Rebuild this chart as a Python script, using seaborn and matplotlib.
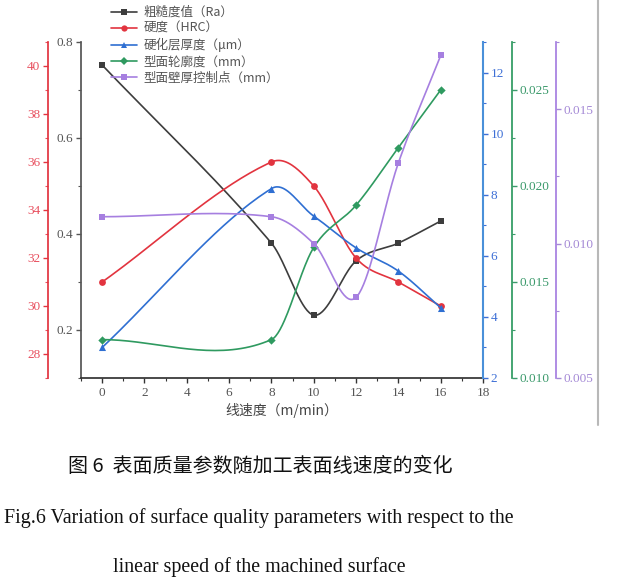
import numpy as np
import pandas as pd
import matplotlib
matplotlib.use("Agg")
import matplotlib.pyplot as plt
import seaborn as sns
from matplotlib.lines import Line2D
from matplotlib.ticker import MultipleLocator, FormatStrFormatter

# ---------------- data ----------------
speed = [0, 8, 10, 12, 14, 16]
roughness = [0.752, 0.381, 0.231, 0.344, 0.381, 0.427]      # Ra
hardness = [31.0, 36.0, 35.0, 32.0, 31.0, 30.0]            # HRC
layer = [3.0, 8.2, 7.3, 6.26, 5.5, 4.3]                     # um
profile = [0.0120, 0.0120, 0.0168, 0.0190, 0.0220, 0.0250]  # mm
wall = [0.0110, 0.0110, 0.0100, 0.0080, 0.0130, 0.0170]     # mm

labels = ["粗糙度值（Ra）", "硬度（HRC）", "硬化层厚度（μm）", "型面轮廓度（mm）", "型面壁厚控制点（mm）"]
xticks = [0, 2, 4, 6, 8, 10, 12, 14, 16, 18]

sns.set_theme(style="ticks")
plt.rcParams['font.family'] = ['Noto Sans CJK SC', 'DejaVu Sans']

C_BLK = "#3d3d3d"
C_RED = "#e2343f"
C_BLU = "#2f6fd2"
C_GRN = "#2f9a60"
C_PUR = "#a67fe0"
T_GRY = "#555555"
T_RED = "#e8505f"
T_BLU = "#3d6fd6"
T_GRN = "#3c9a6c"
T_PUR = "#a58ad6"

PX = 72 / 100  # points per pixel


def smooth(x, y, n=40):
    x = np.asarray(x, float)
    y = np.asarray(y, float)
    m = np.empty_like(y)
    m[0] = (y[1] - y[0]) / (x[1] - x[0])
    m[-1] = (y[-1] - y[-2]) / (x[-1] - x[-2])
    m[1:-1] = (y[2:] - y[:-2]) / (x[2:] - x[:-2])
    xs, ys = [], []
    t = np.linspace(0, 1, n)
    h00 = 2 * t**3 - 3 * t**2 + 1
    h10 = t**3 - 2 * t**2 + t
    h01 = -2 * t**3 + 3 * t**2
    h11 = t**3 - t**2
    for i in range(len(x) - 1):
        h = x[i + 1] - x[i]
        xs.append(x[i] + t * h)
        ys.append(h00 * y[i] + h10 * h * m[i] + h01 * y[i + 1] + h11 * h * m[i + 1])
    return np.concatenate(xs), np.concatenate(ys)


fig = plt.figure(figsize=(6.26, 5.82), dpi=100)
ax = fig.add_axes([81 / 626, 1 - 378 / 582, (483 - 81) / 626, 336 / 582])
ax.set_facecolor("white")
fig.patch.set_facecolor("white")

ax_red = ax.twinx()
ax_blu = ax.twinx()
ax_grn = ax.twinx()
ax_pur = ax.twinx()

# spines
for a in [ax, ax_red, ax_blu, ax_grn, ax_pur]:
    a.spines['top'].set_visible(False)
    a.patch.set_visible(False)
ax.spines['right'].set_visible(False)
ax.spines['left'].set_color(T_GRY)
ax.spines['bottom'].set_color("#333333")

ax_red.spines['right'].set_visible(False)
ax_red.spines['left'].set_visible(True)
ax_red.spines['left'].set_position(('outward', 33 * PX))
ax_red.spines['left'].set_color(C_RED)
ax_red.yaxis.tick_left()
ax_red.yaxis.set_label_position('left')
ax_red.spines['bottom'].set_visible(False)

ax_blu.spines['right'].set_color("#4a90d9")
ax_blu.spines['right'].set_linewidth(1.5)
ax_grn.spines['right'].set_position(('outward', 29 * PX))
ax_grn.spines['right'].set_color(C_GRN)
ax_pur.spines['right'].set_position(('outward', 73 * PX))
ax_pur.spines['right'].set_color(C_PUR)
for a in [ax_blu, ax_grn, ax_pur]:
    a.spines['left'].set_visible(False)
    a.spines['bottom'].set_visible(False)

# limits and ticks
ax.set_xlim(-1, 18)
ax.set_ylim(0.1, 0.8)
ax_red.set_ylim(27, 41)
ax_blu.set_ylim(2, 13)
ax_grn.set_ylim(0.010, 0.0275)
ax_pur.set_ylim(0.005, 0.0175)

ax.set_xticks(xticks)
ax.xaxis.set_minor_locator(MultipleLocator(1))
ax.yaxis.set_major_locator(MultipleLocator(0.2))
ax.yaxis.set_minor_locator(MultipleLocator(0.1))
ax.yaxis.set_major_formatter(FormatStrFormatter('%.1f'))
ax_red.yaxis.set_major_locator(MultipleLocator(2))
ax_red.yaxis.set_minor_locator(MultipleLocator(1))
ax_blu.yaxis.set_major_locator(MultipleLocator(2))
ax_blu.yaxis.set_minor_locator(MultipleLocator(1))
ax_grn.yaxis.set_major_locator(MultipleLocator(0.005))
ax_grn.yaxis.set_minor_locator(MultipleLocator(0.0025))
ax_grn.yaxis.set_major_formatter(FormatStrFormatter('%.3f'))
ax_pur.yaxis.set_major_locator(MultipleLocator(0.005))
ax_pur.yaxis.set_minor_locator(MultipleLocator(0.0025))
ax_pur.yaxis.set_major_formatter(FormatStrFormatter('%.3f'))

for a, col in [(ax, T_GRY), (ax_red, T_RED), (ax_blu, T_BLU), (ax_grn, T_GRN), (ax_pur, T_PUR)]:
    a.tick_params(axis='y', which='major', direction='out', length=3.5, width=1,
                  colors=T_GRY if a is ax else col, labelcolor=col, labelsize=9.5, pad=2)
    a.tick_params(axis='y', which='minor', direction='out', length=2, width=0.8,
                  colors=T_GRY if a is ax else col)
    for lab in a.get_yticklabels():
        lab.set_family('Liberation Serif')
ax_red.tick_params(axis='y', colors=C_RED, labelcolor=T_RED)
ax.tick_params(axis='x', which='major', direction='out', length=3.5, width=1,
               colors="#333333", labelcolor=T_GRY, labelsize=9.5, pad=3)
ax.tick_params(axis='x', which='minor', direction='out', length=2, width=0.8, colors="#333333")
for lab in ax.get_xticklabels():
    lab.set_family('Liberation Serif')

# data series
series = [
    (ax, roughness, C_BLK, 's', 22),
    (ax_red, hardness, C_RED, 'o', 24),
    (ax_blu, layer, C_BLU, '^', 26),
    (ax_grn, profile, C_GRN, 'D', 18),
    (ax_pur, wall, C_PUR, 's', 20),
]
for a, vals, col, mk, sz in series:
    xs, ys = smooth(speed, vals)
    sns.lineplot(x=xs, y=ys, ax=a, color=col, lw=1.2, sort=False, estimator=None, legend=False)
    sns.scatterplot(x=speed, y=vals, ax=a, color=col, marker=mk, s=sz, linewidth=0, legend=False, zorder=5)
    a.set_ylabel('')
ax.set_xlabel('')

# legend
handles = [Line2D([0], [0], color=col, lw=1.2, marker=mk, markersize=4.5, markeredgewidth=0)
           for _, _, col, mk, _ in series]
leg = fig.legend(handles, labels, loc='upper left', bbox_to_anchor=(111 / 626, 1 - 6 / 582),
                 frameon=False, fontsize=9, handlelength=2.1, handletextpad=0.5,
                 labelspacing=0.25, borderpad=0, borderaxespad=0)
for t in leg.get_texts():
    t.set_color(T_GRY)

# x label
fig.text(282 / 626, 1 - 410 / 582, "线速度（m/min）", ha='center', va='center', fontsize=10, color="#444444")

# page border line
fig.add_artist(Line2D([598 / 626, 598 / 626], [1, 1 - 425 / 582], transform=fig.transFigure,
                      color="#b8b8b8", lw=1.5))

# captions
fig.text(260 / 626, 1 - 466 / 582, "图 6  表面质量参数随加工表面线速度的变化", ha='center', va='center',
         fontsize=14.4, color="#111111")
fig.text(259 / 626, 1 - 518 / 582, "Fig.6 Variation of surface quality parameters with respect to the",
         ha='center', va='center', fontsize=14.4, family='Liberation Serif', color="#111111")
fig.text(259 / 626, 1 - 567 / 582, "linear speed of the machined surface",
         ha='center', va='center', fontsize=14.4, family='Liberation Serif', color="#111111")

fig.savefig("out.png", dpi=100, facecolor="white")
